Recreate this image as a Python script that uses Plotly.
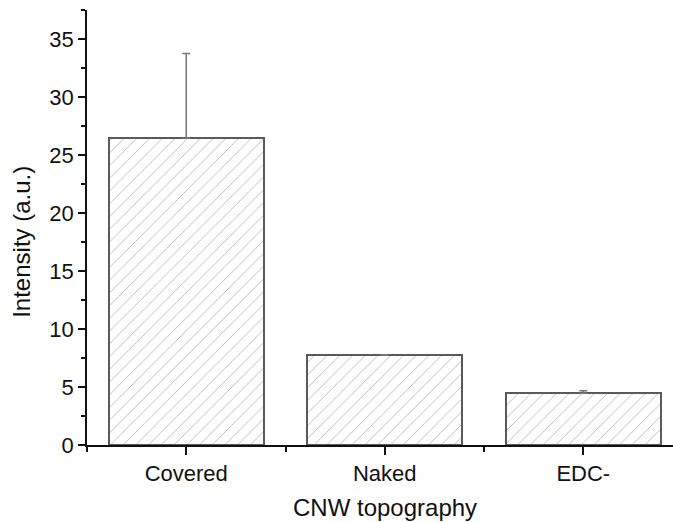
import plotly.graph_objects as go

# Measured intensity per CNW topography (mean and upper error)
categories = ["Covered", "Naked", "EDC-"]
positions = [1, 2, 3]
intensity = [26.45, 7.73, 4.46]
error_up = [7.3, 0.05, 0.22]
error_down = [0, 0, 0]

y_ticks = [0, 5, 10, 15, 20, 25, 30, 35]

font_family = "Liberation Sans, Arial, sans-serif"

fig = go.Figure()
fig.add_trace(
    go.Bar(
        x=positions,
        y=intensity,
        width=0.78,
        marker=dict(
            color="white",
            line=dict(color="#5a5a5a", width=2),
            pattern=dict(shape="/", size=9, solidity=0.1,
                         fgcolor="#707070", bgcolor="white"),
        ),
        error_y=dict(
            type="data",
            symmetric=False,
            array=error_up,
            arrayminus=error_down,
            color="#777777",
            thickness=1.5,
            width=4,
        ),
        showlegend=False,
    )
)

fig.update_layout(
    width=673,
    height=522,
    margin=dict(l=87, r=0, t=10, b=77),
    paper_bgcolor="white",
    plot_bgcolor="white",
    font=dict(family=font_family, color="#111111"),
    bargap=0,
)

fig.update_xaxes(
    range=[0.5, 3.452],
    tickmode="array",
    tickvals=positions,
    ticktext=categories,
    ticks="outside",
    ticklen=8,
    tickwidth=1.5,
    tickcolor="#111111",
    tickfont=dict(size=22, family=font_family),
    showline=True,
    linecolor="#111111",
    linewidth=1.5,
    showgrid=False,
    zeroline=False,
    minor=dict(ticks="outside", ticklen=5, tickwidth=1.5, tickcolor="#111111",
               tick0=0.5, dtick=1, showgrid=False),
)

fig.update_yaxes(
    range=[0, 37.5],
    tickmode="array",
    tickvals=y_ticks,
    ticks="outside",
    ticklen=7,
    tickwidth=1.5,
    tickcolor="#111111",
    tickfont=dict(size=22, family=font_family),
    showline=True,
    linecolor="#111111",
    linewidth=1.5,
    showgrid=False,
    zeroline=False,
    minor=dict(ticks="outside", ticklen=4, tickwidth=1.5, tickcolor="#111111",
               tick0=0, dtick=2.5, showgrid=False),
)

# Axis titles
fig.add_annotation(
    text="CNW topography", xref="x", yref="paper", x=2.0, y=-0.143,
    xanchor="center", yanchor="middle", showarrow=False,
    font=dict(size=24, family=font_family, color="#111111"),
)
fig.add_annotation(
    text="Intensity (a.u.)", xref="paper", yref="paper", x=-0.111, y=0.467,
    xanchor="center", yanchor="middle", textangle=-90, showarrow=False,
    font=dict(size=24, family=font_family, color="#111111"),
)

fig.write_html("out.html")
